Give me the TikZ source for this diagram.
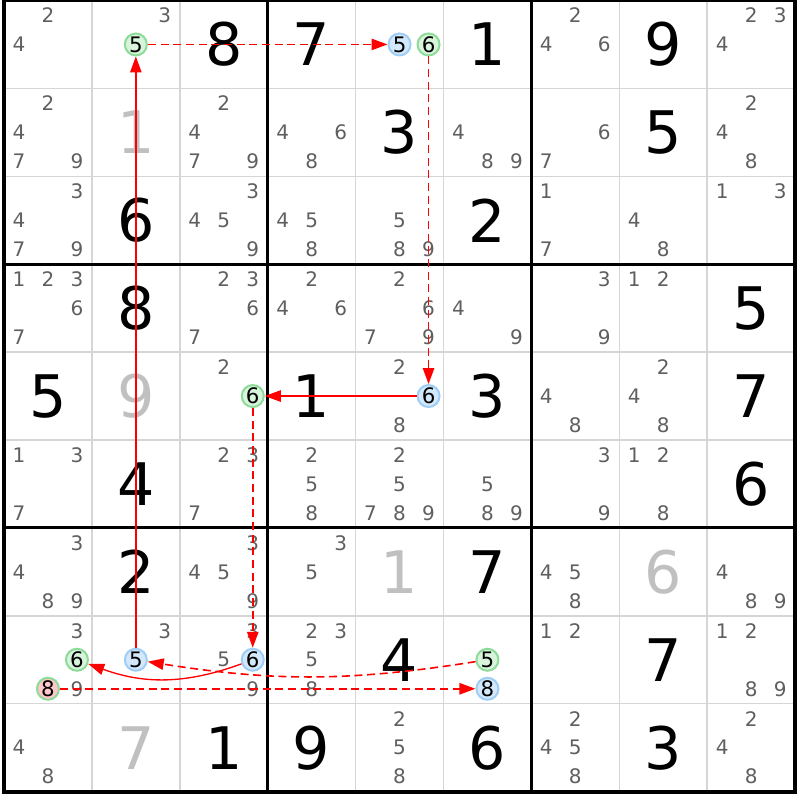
\documentclass[tikz,border=0pt]{standalone}
\usepackage{fontspec}
\setmainfont{DejaVu Sans}
\usetikzlibrary{arrows.meta}
\definecolor{candgray}{HTML}{5F5F5F}
\definecolor{solvedgray}{HTML}{C0C0C0}
\definecolor{gridgray}{HTML}{D6D6D6}
\definecolor{onedge}{HTML}{8CDB98}
\definecolor{onfill}{HTML}{D8F5DB}
\definecolor{offedge}{HTML}{9ECDF5}
\definecolor{offfill}{HTML}{D3E8FB}
\tikzset{
  thinline/.style={gridgray,line width=1.1pt},
  boxline/.style={black,line width=2.2pt},
  given/.style={inner sep=0pt,font=\fontsize{44}{44}\selectfont},
  solved/.style={given,text=solvedgray},
  cand/.style={inner sep=0pt,text=candgray,font=\fontsize{15}{15}\selectfont},
  onmark/.style={circle,draw=onedge,fill=onfill,line width=1.5pt,minimum size=16.5pt,inner sep=0pt,font=\fontsize{16}{16}\selectfont},
  offmark/.style={onmark,draw=offedge,fill=offfill},
  strong/.style={red,line width=1pt,-{Triangle[length=12pt,width=8.5pt]}},
  weak/.style={strong,line width=1.2pt,dash pattern=on 6pt off 3.5pt}
}
\begin{document}
\begin{tikzpicture}[x=65.925pt,y=-65.925pt]
  \useasboundingbox (-0.0455,-0.0057) rectangle (9.0557,9.0956);

  \foreach \i in {1,2,4,5,7,8} {
    \draw[thinline] (\i,0) -- (\i,9);
    \draw[thinline] (0,\i) -- (9,\i);
  }
  \foreach \i in {3,6} {
    \draw[boxline] (\i,0) -- (\i,9);
    \draw[boxline] (0,\i) -- (9,\i);
  }
  \draw[black,line width=3pt] (0,0) rectangle (9,9);

  \foreach \r/\c/\d in {1/3/8,1/4/7,1/6/1,1/8/9,2/5/3,2/8/5,3/2/6,3/6/2,
      4/2/8,4/9/5,5/1/5,5/4/1,5/6/3,5/9/7,6/2/4,6/9/6,7/2/2,7/6/7,
      8/5/4,8/8/7,9/3/1,9/4/9,9/6/6,9/8/3}
    \node[given] (g\r\c) at (\c-0.5,\r-0.5) {\d};
  \foreach \r/\c/\d in {2/2/1,5/2/9,7/5/1,7/8/6,9/2/7}
    \node[solved] (g\r\c) at (\c-0.5,\r-0.5) {\d};

  \foreach \r/\c/\ds in {1/1/{2,4},1/2/{3},1/7/{2,4,6},1/9/{2,3,4},
      2/1/{2,4,7,9},2/3/{2,4,7,9},2/4/{4,6,8},2/6/{4,8,9},2/7/{6,7},2/9/{2,4,8},
      3/1/{3,4,7,9},3/3/{3,4,5,9},3/4/{4,5,8},3/5/{5,8,9},3/7/{1,7},3/8/{4,8},3/9/{1,3},
      4/1/{1,2,3,6,7},4/3/{2,3,6,7},4/4/{2,4,6},4/5/{2,6,7,9},4/6/{4,9},4/7/{3,9},4/8/{1,2},
      5/3/{2},5/5/{2,8},5/7/{4,8},5/8/{2,4,8},
      6/1/{1,3,7},6/3/{2,3,7},6/4/{2,5,8},6/5/{2,5,7,8,9},6/6/{5,8,9},6/7/{3,9},6/8/{1,2,8},
      7/1/{3,4,8,9},7/3/{3,4,5,9},7/4/{3,5},7/7/{4,5,8},7/9/{4,8,9},
      8/1/{3,9},8/2/{3},8/3/{3,5,9},8/4/{2,3,5,8},8/7/{1,2},8/9/{1,2,8,9},
      9/1/{4,8},9/5/{2,5,8},9/7/{2,4,5,8},9/9/{2,4,8}} {
    \foreach \d in \ds {
      \pgfmathsetmacro\dx{(mod(\d-1,3)-1)*0.33}
      \pgfmathsetmacro\dy{(floor((\d-1)/3)-1)*0.33}
      \node[cand] (k\r\c\d) at (\c-0.5+\dx,\r-0.5+\dy) {\d};
    }
  }

  \node[onmark]  (p125) at (1.5,0.5)   {5};
  \node[offmark] (p155) at (4.5,0.5)   {5};
  \node[onmark]  (p156) at (4.83,0.5)  {6};
  \node[offmark] (p556) at (4.83,4.5)  {6};
  \node[onmark]  (p536) at (2.83,4.5)  {6};
  \node[offmark] (p836) at (2.83,7.5)  {6};
  \node[onmark]  (p816) at (0.83,7.5)  {6};
  \node[onmark,fill=red!22] (p818) at (0.5,7.83) {8};
  \node[offmark] (p825) at (1.5,7.5)   {5};
  \node[onmark]  (p865) at (5.5,7.5)   {5};
  \node[offmark] (p868) at (5.5,7.83)  {8};

  \draw[weak] (p125) -- (p155);
  \draw[weak] (p156) -- (p556);
  \draw[strong] (p556) -- (p536);
  \draw[weak] (p536) -- (p836);
  \draw[strong] (p836) to[bend left=20] (p816);
  \draw[weak] (p865) to[bend left=9] (p825);
  \draw[strong] (p825) -- (p125);
  \draw[weak] (p818) -- (p868);
\end{tikzpicture}
\end{document}
